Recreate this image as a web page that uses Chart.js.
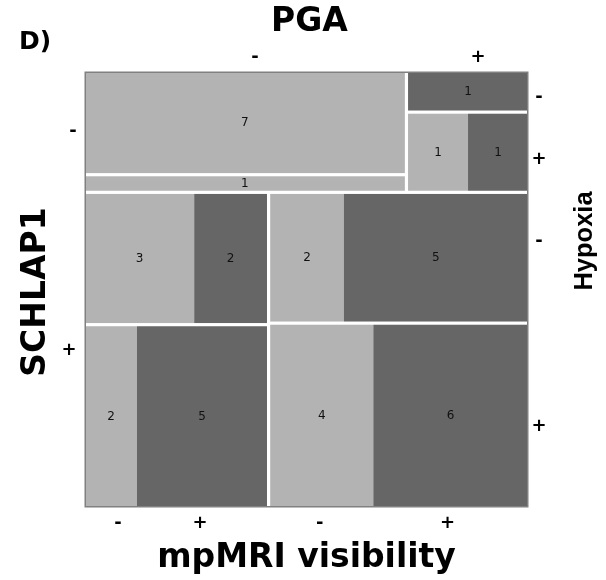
<!DOCTYPE html>
<html><head><meta charset="utf-8">
<script src="https://cdn.jsdelivr.net/npm/chart.js@4/dist/chart.umd.min.js"></script>
<style>html,body{margin:0;padding:0;background:#fff;} canvas{display:block;}</style>
</head><body>
<canvas id="c" width="606" height="580"></canvas>
<script>
// Factor levels
const schlap1Levels = ['-', '+'];
const pgaLevels = ['-', '+'];
const hypoxiaLevels = ['-', '+'];
const mpmriLevels = ['-', '+'];
// Counts: each array = [hypoxia -, hypoxia +], each pair = [mpMRI -, mpMRI +]
const schlapNegPgaNeg = [[7, 0], [1, 0]];
const schlapNegPgaPos = [[0, 1], [1, 1]];
const schlapPosPgaNeg = [[3, 2], [2, 5]];
const schlapPosPgaPos = [[2, 5], [4, 6]];
const panelLabel = 'D)';
const topTitle = 'PGA';
const leftTitle = 'SCHLAP1';
const rightTitle = 'Hypoxia';
const bottomTitle = 'mpMRI visibility';

const table = [[schlapNegPgaNeg, schlapNegPgaPos], [schlapPosPgaNeg, schlapPosPgaPos]];
const total = a => Array.isArray(a) ? a.reduce((s, v) => s + total(v), 0) : a;

function layout(gx, gy) {
  const cells = [], rows = [];
  const all = total(table);
  const avH = 1 - gy * (table.length - 1);
  let y = 0;
  table.forEach((row, si) => {
    const h = avH * total(row) / all;
    const avW = 1 - gx * (row.length - 1);
    let x = 0;
    const cols = [];
    row.forEach((block, pi) => {
      const w = avW * total(block) / total(row);
      const subH = h - gy * (block.length - 1);
      let yy = y;
      const subs = [];
      block.forEach((pair, hi) => {
        const hh = subH * total(pair) / total(block);
        let xx = x;
        const parts = [];
        pair.forEach((n, mi) => {
          const ww = w * n / total(pair);
          const c = {x0: xx, x1: xx + ww, y0: yy, y1: yy + hh, n, mi, si, pi, hi};
          cells.push(c); parts.push(c);
          xx += ww;
        });
        subs.push({y0: yy, y1: yy + hh, parts});
        yy += hh + gy;
      });
      cols.push({x0: x, x1: x + w, subs});
      x += w + gx;
    });
    rows.push({y0: y, y1: y + h, cols});
    y += h + gy;
  });
  return {cells, rows};
}

const BOLD = 'bold 33px "DejaVu Sans"';
const TICK = 'bold 18px "DejaVu Sans"';

const mosaicPlugin = {
  id: 'mosaic',
  afterDatasetsDraw(chart) {
    const {ctx, chartArea: ca, scales: {x: sx, y: sy}} = chart;
    const gap = 3.2;
    const L = layout(gap / ca.width, gap / ca.height);
    const px = v => sx.getPixelForValue(v), py = v => sy.getPixelForValue(v);
    ctx.save();
    // cells
    L.cells.forEach(c => {
      if (c.n <= 0) return;
      ctx.fillStyle = c.mi === 0 ? '#b3b3b3' : '#666666';
      const x0 = px(c.x0), x1 = px(c.x1), y0 = py(c.y0), y1 = py(c.y1);
      ctx.fillRect(x0, y0, x1 - x0, y1 - y0);
    });
    // outer frame
    ctx.strokeStyle = '#808080';
    ctx.lineWidth = 1.5;
    ctx.strokeRect(ca.left + 0.25, ca.top + 0.25, ca.width - 0.5, ca.height - 0.5);
    // counts
    ctx.fillStyle = '#111';
    ctx.font = '12px "DejaVu Sans"';
    ctx.textAlign = 'center'; ctx.textBaseline = 'middle';
    L.cells.forEach(c => {
      if (c.n <= 0) return;
      ctx.fillText(String(c.n), (px(c.x0) + px(c.x1)) / 2, (py(c.y0) + py(c.y1)) / 2 + 0.5);
    });
    // tick labels
    ctx.fillStyle = '#000';
    ctx.font = TICK;
    // top: PGA levels (first SCHLAP1 row)
    L.rows[0].cols.forEach((col, i) => {
      ctx.fillText(pgaLevels[i], (px(col.x0) + px(col.x1)) / 2 + 10, ca.top - 15);
    });
    // left: SCHLAP1 levels
    const leftNudge = [3, -1];
    L.rows.forEach((r, i) => {
      ctx.fillText(schlap1Levels[i], ca.left - 15 + leftNudge[i], (py(r.y0) + py(r.y1)) / 2);
    });
    // right: Hypoxia levels (last PGA column of each row)
    const rightNudge = [6, 7, -16, 10];
    let k = 0;
    L.rows.forEach(r => {
      const col = r.cols[r.cols.length - 1];
      col.subs.forEach((s, i) => {
        ctx.fillText(hypoxiaLevels[i], ca.right + 11, (py(s.y0) + py(s.y1)) / 2 + rightNudge[k++]);
      });
    });
    // bottom: mpMRI levels (last SCHLAP1 row, last hypoxia level)
    const bottomNudge = [7, -2, -2, -3];
    k = 0;
    const last = L.rows[L.rows.length - 1];
    last.cols.forEach(col => {
      const s = col.subs[col.subs.length - 1];
      s.parts.forEach((p, i) => {
        ctx.fillText(mpmriLevels[i], (px(p.x0) + px(p.x1)) / 2 + bottomNudge[k++], ca.bottom + 16);
      });
    });
    // titles
    ctx.font = BOLD;
    ctx.fillText(topTitle, (ca.left + ca.right) / 2 + 3, 22);
    ctx.fillText(bottomTitle, (ca.left + ca.right) / 2, 558);
    ctx.font = 'bold 25px "DejaVu Sans"';
    ctx.textAlign = 'left';
    ctx.fillText(panelLabel, 19, 42);
    ctx.textAlign = 'center';
    ctx.save();
    ctx.translate(36, 292);
    ctx.rotate(-Math.PI / 2);
    ctx.font = BOLD;
    ctx.fillText(leftTitle, 0, 0);
    ctx.restore();
    ctx.save();
    ctx.translate(585, 241);
    ctx.rotate(-Math.PI / 2);
    ctx.font = 'bold 25.5px "Liberation Sans"';
    ctx.fillText(rightTitle, 0, 0);
    ctx.restore();
    ctx.restore();
  }
};

new Chart(document.getElementById('c'), {
  type: 'scatter',
  data: {datasets: [{data: [], pointRadius: 0}]},
  options: {
    responsive: false,
    animation: false,
    devicePixelRatio: 1,
    layout: {padding: {left: 85, top: 72, right: 78, bottom: 73}},
    plugins: {legend: {display: false}, tooltip: {enabled: false}, title: {display: false}},
    scales: {
      x: {type: 'linear', min: 0, max: 1, display: false},
      y: {type: 'linear', min: 0, max: 1, reverse: true, display: false}
    }
  },
  plugins: [mosaicPlugin]
});
</script>
</body></html>
